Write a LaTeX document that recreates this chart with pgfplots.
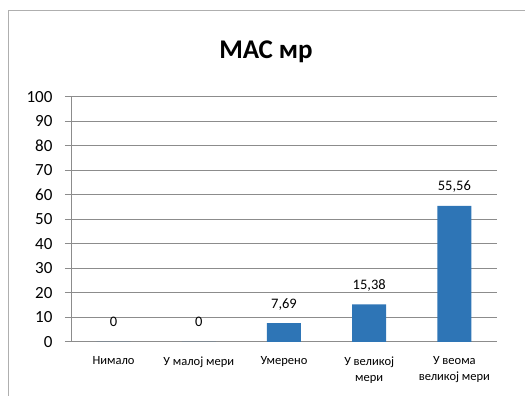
\documentclass[border=0pt]{standalone}
\usepackage{pgfplots}
\pgfplotsset{compat=1.18}
\usepackage{fontspec}
\setmainfont{Carlito}
\definecolor{barblue}{RGB}{46,117,182}
\definecolor{gridgray}{RGB}{140,140,140}
\definecolor{framegray}{RGB}{175,175,175}
\begin{document}
\begin{tikzpicture}[x=1pt,y=1pt]
\begin{axis}[
  at={(71pt,54pt)}, anchor=south west,
  scale only axis, width=426pt, height=245pt,
  xmin=-0.5, xmax=4.5, ymin=0, ymax=100,
  ytick={0,10,...,100},
  ymajorgrids, grid style={gridgray, line width=1pt},
  axis x line*=bottom, axis y line*=left,
  axis line style={gridgray, line width=1pt, -},
  tick align=outside,
  major tick length=6pt,
  tick style={gridgray, line width=1pt},
  xtick={0,...,4},
  major x tick style={draw=none},
  xticklabels={Нимало, У малој мери, Умерено, {У великој\\мери}, {У веома\\великој мери}},
  xticklabel style={align=center, font=\fontsize{12.5}{16}\selectfont, yshift=-5pt},
  extra x ticks={-0.5,0.5,...,4.5},
  extra x tick labels={},
  extra x tick style={major tick length=4pt, tick style={gridgray, line width=1pt}},
  yticklabel style={font=\fontsize{17}{19}\selectfont, xshift=-9pt},
  /pgf/number format/assume math mode=true,
  /pgf/number format/use comma,
  nodes near coords,
  nodes near coords style={font=\fontsize{14.5}{16}\selectfont, anchor=base, yshift=15pt, /pgf/number format/fixed, /pgf/number format/precision=2},
]
\addplot[ybar, fill=barblue, draw=none, bar width=34pt] coordinates {(0,0) (1,0) (2,7.69) (3,15.38) (4,55.56)};
\end{axis}
\node[font=\bfseries\fontsize{27}{30}\selectfont, anchor=base] at (266,337) {МАС мр};
\draw[framegray, line width=1pt] (8,-5) -- (8,385) -- (530,385);
\pgfresetboundingbox
\useasboundingbox (0,0) rectangle (525,396);
\end{tikzpicture}
\end{document}
